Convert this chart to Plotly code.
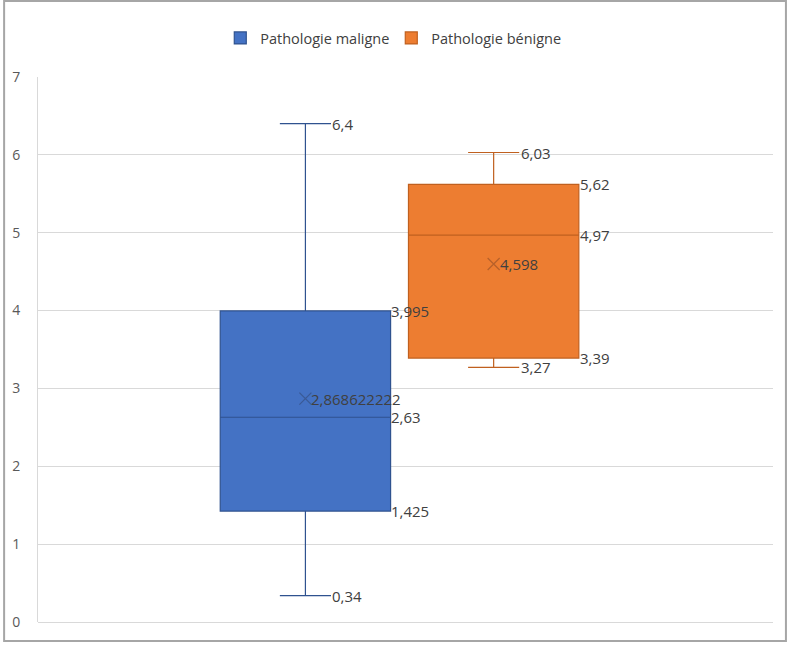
import plotly.graph_objects as go

series = ["Pathologie maligne", "Pathologie bénigne"]
positions = [1, 2]
q1 = [1.425, 3.39]
median = [2.63, 4.97]
q3 = [3.995, 5.62]
lower = [0.34, 3.27]
upper = [6.4, 6.03]
mean = [2.868622222, 4.598]
fill_colors = ["#4472C4", "#ED7D31"]
line_colors = ["#2F528F", "#C0601F"]
mean_colors = ["#3A5A96", "#B8612A"]

def fmt(v):
    return str(v).replace(".", ",")

fig = go.Figure()
lab_font = dict(family="Open Sans, Liberation Sans, sans-serif", size=15, color="#404040")
for i in range(2):
    fig.add_trace(go.Box(
        name=series[i], x=[positions[i]], q1=[q1[i]], median=[median[i]], q3=[q3[i]],
        lowerfence=[lower[i]], upperfence=[upper[i]], boxmean=False, boxpoints=False,
        width=0.905, whiskerwidth=0.3,
        fillcolor=fill_colors[i], line=dict(color=line_colors[i], width=1.2),
        hoverinfo="skip",
    ))
    fig.add_trace(go.Scatter(
        x=[positions[i]], y=[mean[i]], mode="markers", showlegend=False,
        marker=dict(symbol="x-thin", size=12, line=dict(color=mean_colors[i], width=1.3)),
        hoverinfo="skip",
    ))
    for v in (upper[i], lower[i]):
        fig.add_annotation(x=positions[i], y=v, text=fmt(v), showarrow=False,
                           xanchor="left", yanchor="middle", xshift=25, font=lab_font)
    for v in (q3[i], median[i], q1[i]):
        fig.add_annotation(x=positions[i], y=v, text=fmt(v), showarrow=False,
                           xanchor="left", yanchor="middle", xshift=84, font=lab_font)
    fig.add_annotation(x=positions[i], y=mean[i], text=fmt(mean[i]), showarrow=False,
                       xanchor="left", yanchor="middle", xshift=4, font=lab_font)

fig.update_layout(
    width=788, height=645,
    margin=dict(l=35, r=15, t=77, b=23),
    paper_bgcolor="white", plot_bgcolor="white",
    font=dict(family="Open Sans, Liberation Sans, sans-serif", size=14, color="#595959"),
    showlegend=True,
    legend=dict(orientation="h", x=0.248, xanchor="left", y=1.0716, yanchor="middle",
                entrywidth=126, entrywidthmode="pixels",
                font=dict(size=14.5, color="#404040"), itemclick=False),
    xaxis=dict(range=[-0.4206, 3.484], showticklabels=False, showgrid=False,
               zeroline=False, showline=False),
    yaxis=dict(range=[0, 7], dtick=1, showgrid=True, gridcolor="#D9D9D9", gridwidth=1,
               zeroline=True, zerolinecolor="#D9D9D9", zerolinewidth=1,
               showline=True, linecolor="#D9D9D9", linewidth=1,
               ticks="", ticklabelstandoff=14,
               tickfont=dict(size=14, color="#595959")),
    shapes=[dict(type="rect", xref="paper", yref="paper",
                 x0=-0.0461, x1=1.0176, y0=-0.0349, y1=1.1394,
                 line=dict(color="#A6A6A6", width=2), layer="below")],
)

fig.write_html("out.html")
